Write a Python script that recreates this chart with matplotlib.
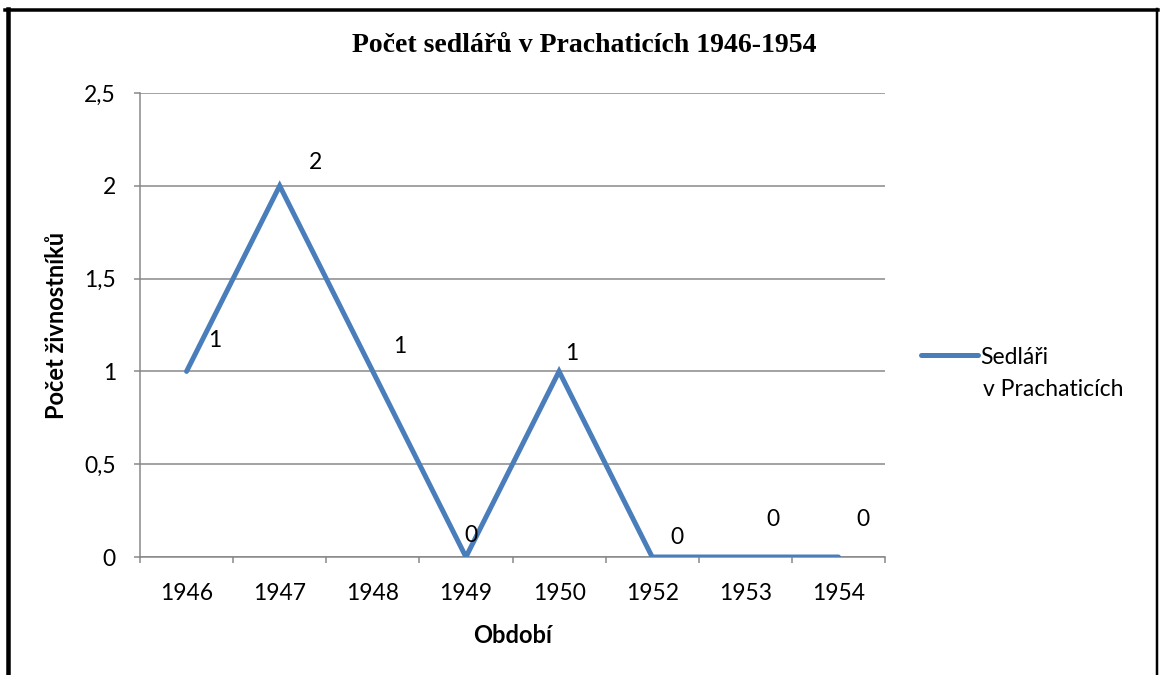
import matplotlib.pyplot as plt
from matplotlib.lines import Line2D
import numpy as np

years = ['1946', '1947', '1948', '1949', '1950', '1952', '1953', '1954']
counts = [1, 2, 1, 0, 1, 0, 0, 0]
# label offsets in pixels (dx, dy) as placed in the original chart
label_offsets = [(28, 31), (36, 23), (27, 25), (5, 22), (13, 18), (25, 20), (28, 38), (24, 38)]

W, H = 1160, 675
fig = plt.figure(figsize=(W / 100, H / 100), dpi=100)
ax = fig.add_axes([140 / W, 1 - 557 / H, (885 - 140) / W, (557 - 93) / H])

sans = 'Lato'
fs = 16.5
grey = '#868686'
blue = '#4A7EBB'
px = 72 / 100

x = np.arange(len(years))
line, = ax.plot(x, counts, color=blue, lw=5 * px, solid_capstyle='round', solid_joinstyle='miter',
                label='Sedláři', zorder=3)

for xi, v, (dx, dy) in zip(x, counts, label_offsets):
    ax.annotate(str(v), (xi, v), xytext=(dx * px, dy * px), textcoords='offset points',
                ha='center', va='center', fontsize=fs, family=sans, zorder=4)

ax.set_xlim(-0.5, len(years) - 0.5)
ax.set_ylim(0, 2.5)
ax.set_yticks([0, 0.5, 1, 1.5, 2, 2.5])
ax.set_yticklabels(['0', '0,5', '1', '1,5', '2', '2,5'], family=sans, fontsize=fs)
ax.set_xticks(x)
ax.set_xticklabels(years, family=sans, fontsize=fs)
ax.set_xticks(np.arange(-0.5, len(years)), minor=True)
ax.tick_params(axis='x', which='major', length=0, pad=19)
ax.tick_params(axis='x', which='minor', length=6 * px, width=1.5 * px, color=grey, direction='out')
ax.tick_params(axis='y', length=6 * px, width=1.5 * px, color=grey, pad=13)
ax.grid(axis='y', color=grey, lw=1.5 * px)
ax.set_axisbelow(True)
for s in ['top', 'right']:
    ax.spines[s].set_visible(False)
for s in ['left', 'bottom']:
    ax.spines[s].set_color(grey)
    ax.spines[s].set_linewidth(1.5 * px)

ax.set_xlabel('Období', family=sans, fontsize=17, fontweight='bold', labelpad=14)
ax.set_ylabel('Počet živnostníků', family=sans, fontsize=17, fontweight='bold', labelpad=12)
fig.text(584 / W, 1 - 46 / H, 'Počet sedlářů v Prachaticích 1946-1954', ha='center', va='center',
         family='Liberation Serif', fontweight='bold', fontsize=20)

leg = fig.legend(handles=[line], loc='center left', bbox_to_anchor=(921 / W, 1 - 357 / H),
                 frameon=False, prop={'family': sans, 'size': fs}, handlelength=2.5,
                 handletextpad=0.1, borderaxespad=0, borderpad=0)
fig.text(983 / W, 1 - 389 / H, 'v Prachaticích', ha='left', va='center', family=sans, fontsize=fs)

# outer frame
fig.add_artist(Line2D([7.5 / W, 7.5 / W], [0, 1 - 9 / H], color='black', lw=4.5 * px))
fig.add_artist(Line2D([5 / W, 1158 / W], [1 - 10 / H, 1 - 10 / H], color='black', lw=3.5 * px))
fig.add_artist(Line2D([1157 / W, 1157 / W], [0, 1 - 9 / H], color='black', lw=2.5 * px))

fig.savefig('out.png', dpi=100)
